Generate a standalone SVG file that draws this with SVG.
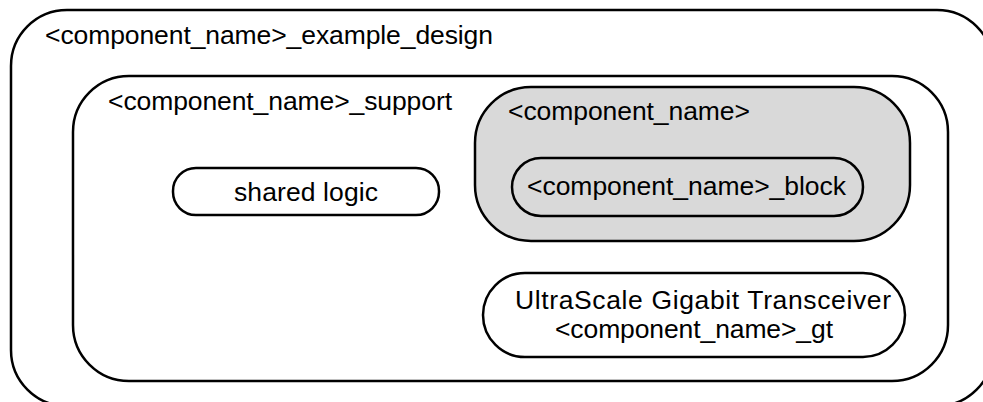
<svg xmlns="http://www.w3.org/2000/svg" width="983" height="402" viewBox="0 0 983 402">
<style>
.box{fill:#fff;stroke:#000;stroke-width:2.5}
.gray{fill:#d9d9d9}
text{font-family:"Liberation Sans",Arial,sans-serif;font-size:26.5px;fill:#000}
.c{text-anchor:middle}
</style>
<rect width="983" height="402" fill="#fff"/>
<g id="example_design">
<rect class="box" x="11" y="10" width="982" height="396" rx="56" ry="56"/>
<text x="45" y="44" textLength="448">&lt;component_name&gt;_example_design</text>
</g>
<g id="support">
<rect class="box" x="73" y="76" width="875" height="305" rx="56" ry="56"/>
<text x="108" y="110" textLength="344">&lt;component_name&gt;_support</text>
</g>
<g id="shared_logic">
<rect class="box" x="173" y="168" width="266" height="47" rx="23" ry="23"/>
<text class="c" x="306" y="201" textLength="144">shared logic</text>
</g>
<g id="component">
<rect class="box gray" x="475" y="87" width="435" height="154" rx="56" ry="56"/>
<text x="508" y="120" textLength="242">&lt;component_name&gt;</text>
</g>
<g id="block">
<rect class="box gray" x="512" y="158" width="351" height="58" rx="29" ry="29"/>
<text class="c" x="686.5" y="195" textLength="319">&lt;component_name&gt;_block</text>
</g>
<g id="gt">
<rect class="box" x="483" y="273" width="422" height="84" rx="42" ry="42"/>
<text class="c" x="703" y="309" textLength="376">UltraScale Gigabit Transceiver</text>
<text class="c" x="694" y="338" textLength="278">&lt;component_name&gt;_gt</text>
</g>
<g id="connectors"></g>
</svg>
